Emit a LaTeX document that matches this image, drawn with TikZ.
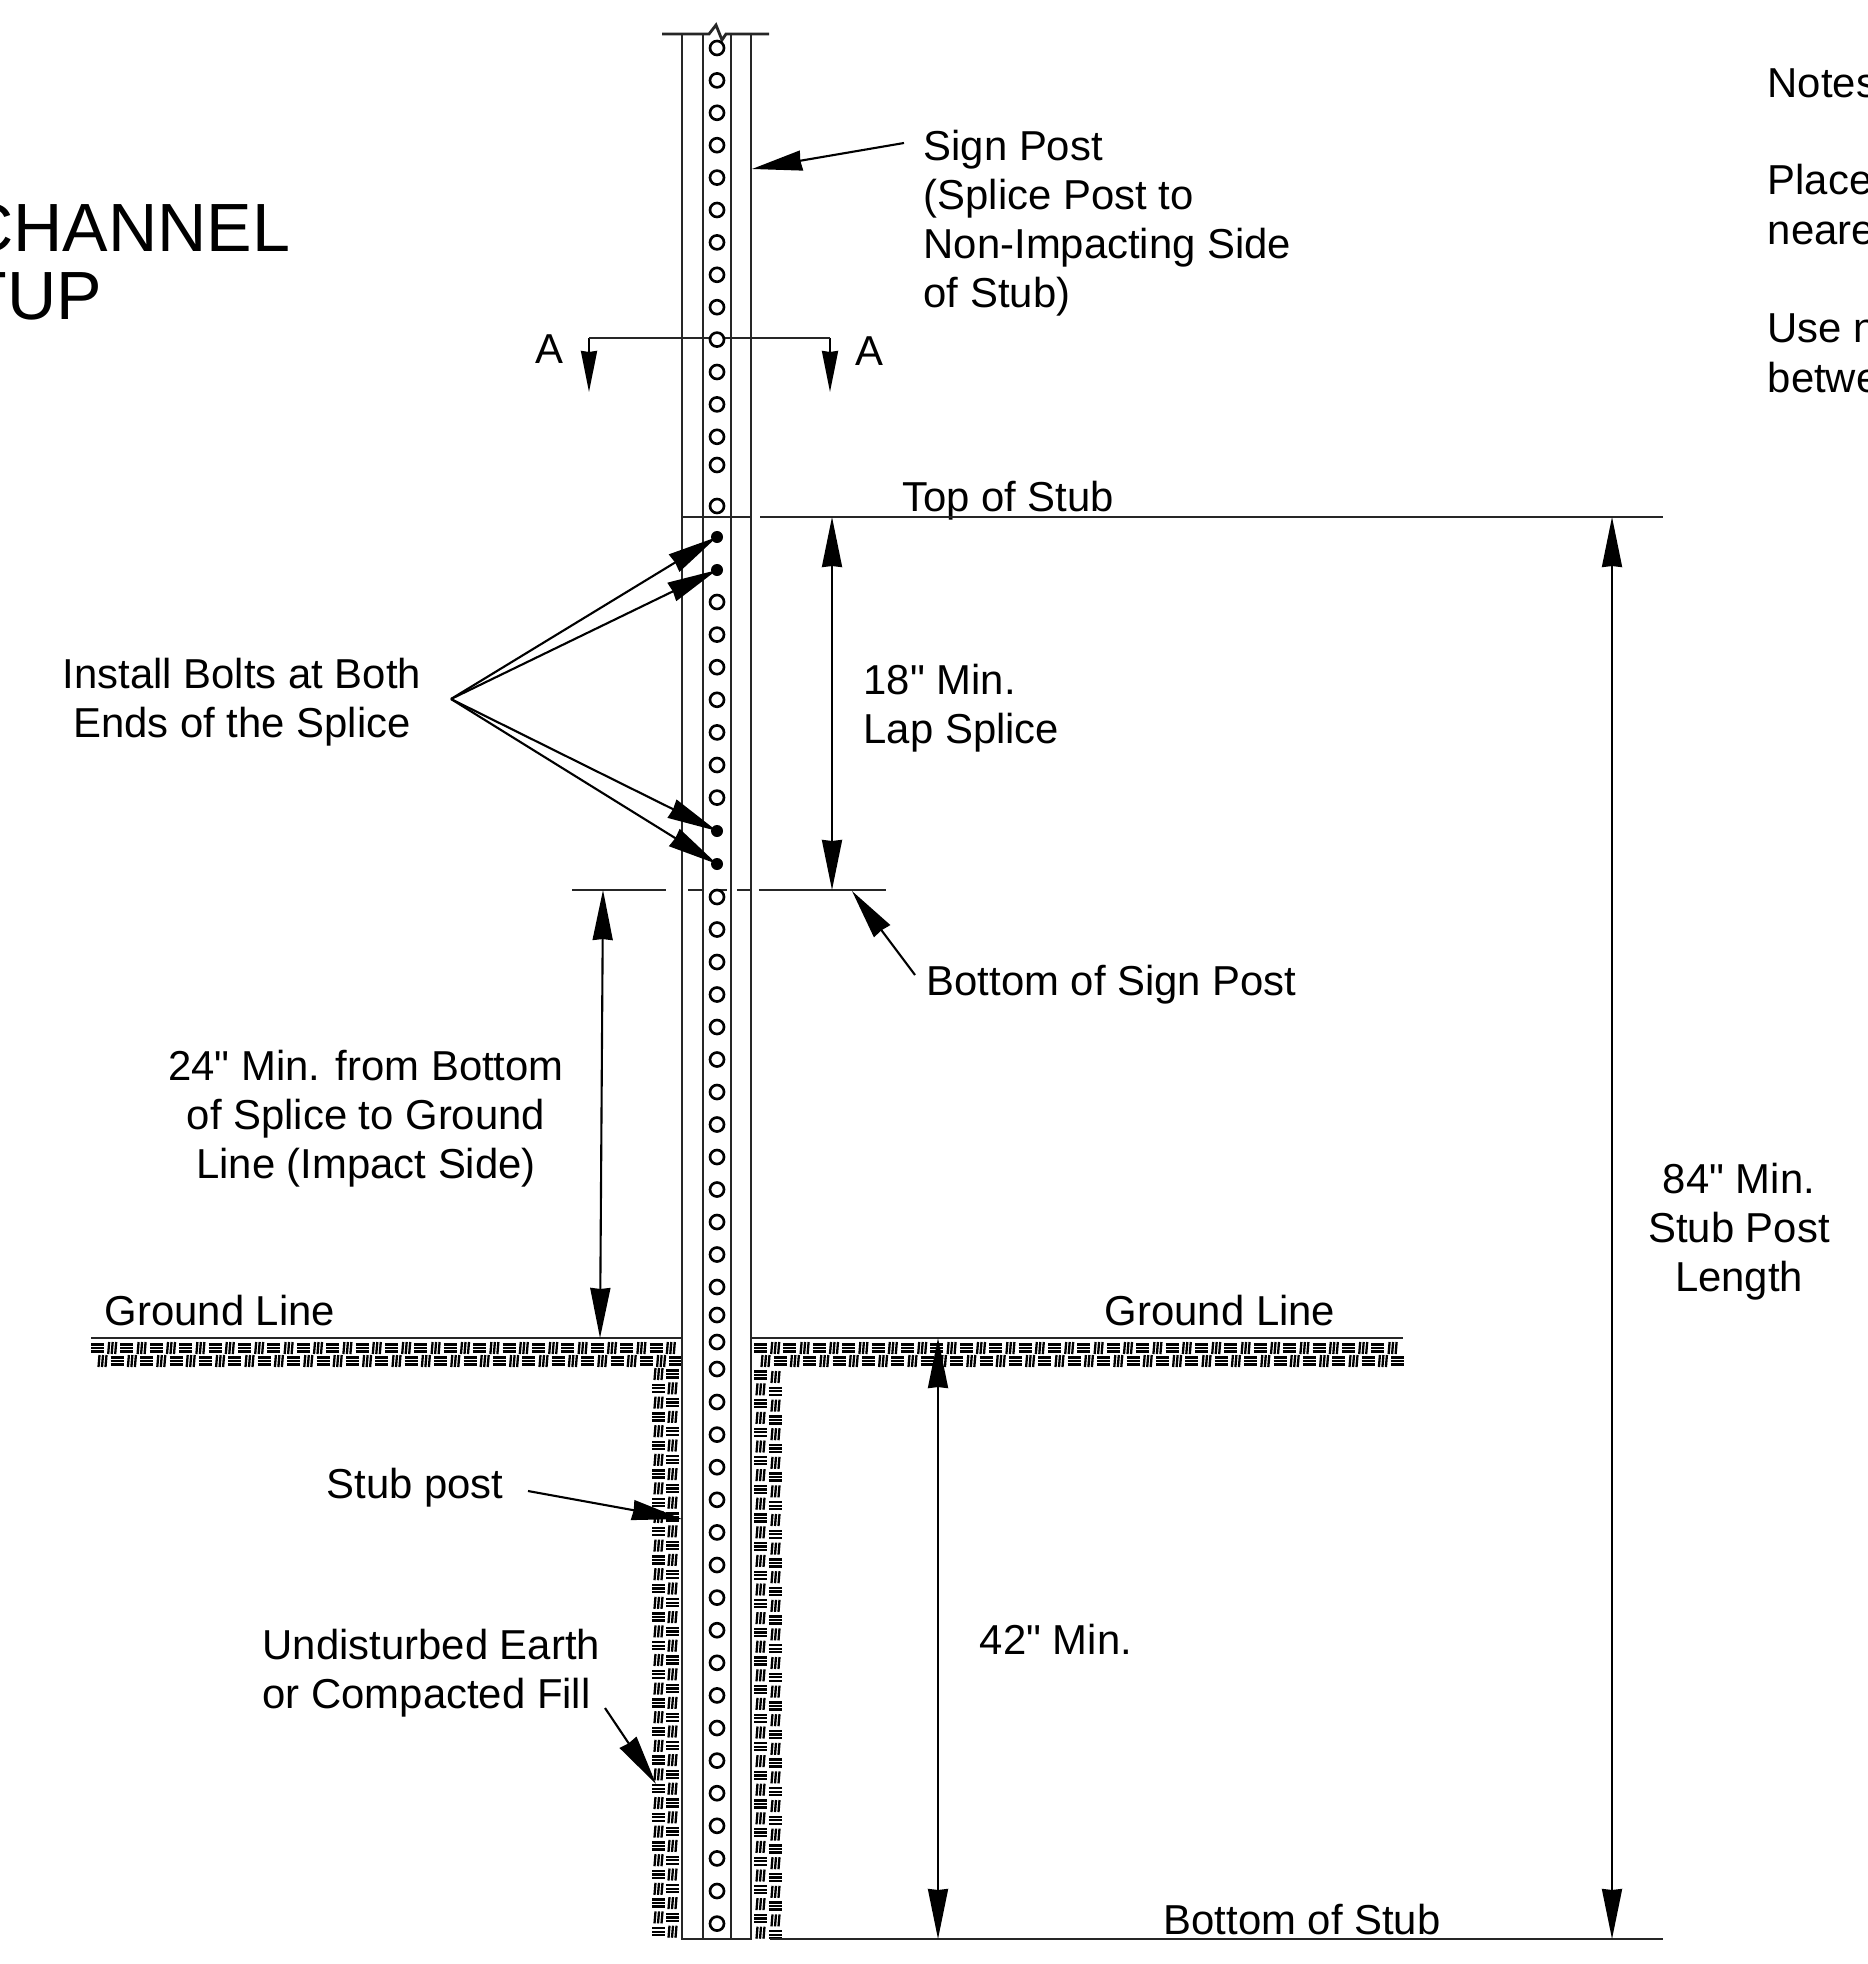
\documentclass[tikz,border=0pt]{standalone}
\usepackage{fontspec}
\setmainfont{Liberation Sans}
\newfontfamily\lblfont{Liberation Sans}
\usetikzlibrary{arrows.meta}
\tikzset{
    lbl/.style={inner sep=0pt,align=left,font=\lblfont\fontsize{11.9}{13.9}\selectfont},
    ctrlbl/.style={lbl,align=center},
    biglbl/.style={inner sep=0pt,anchor=base east,font=\fontsize{19.4}{23}\selectfont},
    postline/.style={line width=0.8pt,black!85},
    thinline/.style={line width=0.65pt,black!85},
    leader/.style={line width=0.6pt,-{Stealth[length=5mm,width=2mm,inset=0.1mm]}},
    dimarrow/.style={line width=0.6pt,{Stealth[length=5mm,width=2mm,inset=0.1mm]}-{Stealth[length=5mm,width=2mm,inset=0.1mm]}},
    sectarrow/.style={line width=0.6pt,-{Stealth[length=4.1mm,width=1.6mm,inset=0.1mm]}},
    bolt/.style={circle,fill=black,inner sep=0pt,minimum size=1.2mm},
    blk0/.pic={\draw[line width=0.65pt] (0,2.5) -- (13,2.5) (0,6) -- (13,6) (0,9.5) -- (13,9.5);},
    blk1/.pic={\draw[line width=0.65pt] (2.5,12) -- (3.5,0) (6,12) -- (7,0) (9.5,12) -- (10.5,0);},
}
\begin{document}
\begin{tikzpicture}[x=0.01cm,y=-0.01cm,>=Stealth]
    \path[use as bounding box] (0,0) rectangle (1867,1964);
    \clip (0,0) rectangle (1867,1964);

    \node[biglbl] (titleone) at (291,252) {CHANNEL};
    \node[biglbl] (titletwo) at (103,320) {TUP};
    \node[lbl,anchor=west] (notes) at (1767,83) {Notes};
    \node[lbl,anchor=west] (placeone) at (1767,180) {Place};
    \node[lbl,anchor=west] (placetwo) at (1767,233) {neare};
    \node[lbl,anchor=west] (useone) at (1767,328) {Use n};
    \node[lbl,anchor=west] (usetwo) at (1767,378) {betwe};

    \node[lbl,anchor=west] (signpost) at (923,223) {Sign Post\\(Splice Post to\\Non-Impacting Side\\of Stub)};
    \node[lbl] (secleft) at (549,349) {A};
    \node[lbl] (secright) at (869,351) {A};
    \node[lbl] (topstub) at (1008,501) {Top of Stub};
    \node[ctrlbl] (install) at (242,702) {Install Bolts at Both\\Ends of the Splice};
    \node[lbl,anchor=west] (lapsplice) at (863,708) {18" Min.\\Lap Splice};
    \node[lbl,anchor=west] (bottompost) at (926,985) {Bottom of Sign Post};
    \node[ctrlbl] (minsplice) at (366,1119) {24" Min. from Bottom\\of Splice to Ground\\Line (Impact Side)};
    \node[lbl] (groundleft) at (220,1311) {Ground Line};
    \node[lbl] (groundright) at (1220,1311) {Ground Line};
    \node[ctrlbl] (stublength) at (1739,1232) {84" Min.\\Stub Post\\Length};
    \node[lbl] (stubpost) at (415,1488) {Stub post};
    \node[lbl,anchor=west] (earth) at (262,1673) {Undisturbed Earth\\or Compacted Fill};
    \node[lbl] (burial) at (1056,1639) {42" Min.};
    \node[lbl] (bottomstub) at (1302,1920) {Bottom of Stub};

    \foreach \i in {0,...,39}
        \foreach \r in {0,1} {
            \pgfmathtruncatemacro\k{mod(\i+\r,2)}
            \pic at ({91+14.7*\i+5*\r},{1342+13*\r}) {blk\k};
        }
    \foreach \i in {0,...,43}
        \foreach \r in {0,1} {
            \pgfmathtruncatemacro\k{mod(\i+\r,2)}
            \pic at ({754+14.7*\i+5*\r},{1342+13*\r}) {blk\k};
        }
    \foreach \r in {0,...,39}
        \foreach \c in {0,1} {
            \pgfmathtruncatemacro\k{mod(\r+\c+1,2)}
            \pgfmathtruncatemacro\m{mod(\r+\c,2)}
            \pic at ({652+14*\c},{1368+14.3*\r}) {blk\k};
            \pic at ({754+15*\c},{1369+14.3*\r+2*\c}) {blk\m};
        }
    \draw[postline] (91,1338) -- (682,1338);
    \draw[postline] (751,1338) -- (1403,1338);

    \draw[postline] (682,34) -- (682,1939) -- (751,1939) -- (751,34);
    \draw[postline] (703,34) -- (703,1939);
    \draw[postline] (731,34) -- (731,1939);
    \draw[postline] (662,34) -- (709,34) -- (716,25) -- (722,40) -- (726,34) -- (769,34);
    \draw[thinline] (682,517) -- (751,517);
    \draw[thinline] (760,517) -- (1663,517);
    \draw[thinline] (770,1939) -- (1663,1939);
    \draw[thinline] (572,890) -- (666,890);
    \draw[thinline] (688,890) -- (703,890);
    \draw[thinline] (717,890) -- (727,890);
    \draw[thinline] (737,890) -- (751,890);
    \draw[thinline] (759,890) -- (886,890);

    \coordinate (secstart) at (589,392);
    \coordinate (secend) at (830,392);
    \draw[sectarrow] (589,338) -- (secstart);
    \draw[sectarrow] (830,338) -- (secend);
    \draw[thinline] (589,338) -- (830,338);

    \foreach \y in {48,80.4,...,437.5,465,506,602,634.6,...,798.5,897,929.5,...,1287.5,1315,1342,1369,1402,1434.6,...,1925}
        \draw[line width=0.75pt,fill=white] (717,\y) circle (7);

    \node[bolt] (boltone) at (717,537) {};
    \node[bolt] (bolttwo) at (717,570) {};
    \node[bolt] (boltthree) at (717,831) {};
    \node[bolt] (boltfour) at (717,864) {};
    \coordinate (installtip) at (451,699);
    \draw[leader] (installtip) -- (boltone.center);
    \draw[leader] (installtip) -- (bolttwo.center);
    \draw[leader] (installtip) -- (boltthree.center);
    \draw[leader] (installtip) -- (boltfour.center);

    \coordinate (signfrom) at (904,143);
    \coordinate (signto) at (752,169);
    \draw[leader] (signfrom) -- (signto);
    \coordinate (botfrom) at (915,975);
    \coordinate (botto) at (852,891);
    \draw[leader] (botfrom) -- (botto);
    \coordinate (stubfrom) at (528,1491);
    \coordinate (stubto) at (682,1519);
    \draw[leader] (stubfrom) -- (stubto);
    \coordinate (earthfrom) at (605,1708);
    \coordinate (earthto) at (656,1784);
    \draw[leader] (earthfrom) -- (earthto);

    \coordinate (lapa) at (832,517);
    \coordinate (lapb) at (832,890);
    \draw[dimarrow] (lapa) -- (lapb);
    \coordinate (mina) at (603,890);
    \coordinate (minb) at (600,1338);
    \draw[dimarrow] (mina) -- (minb);
    \coordinate (depa) at (938,1338);
    \coordinate (depb) at (938,1939);
    \draw[dimarrow] (depa) -- (depb);
    \coordinate (stuba) at (1612,517);
    \coordinate (stubb) at (1612,1939);
    \draw[dimarrow] (stuba) -- (stubb);
\end{tikzpicture}
\end{document}
